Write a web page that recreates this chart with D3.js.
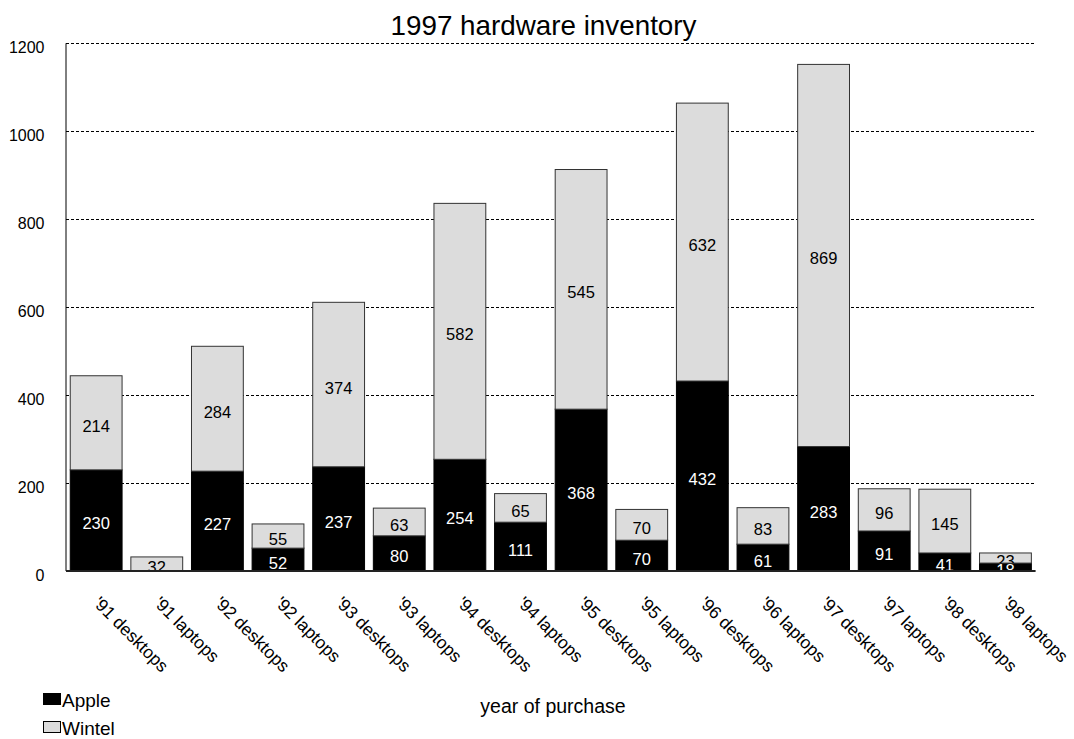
<!DOCTYPE html>
<html>
<head>
<meta charset="utf-8">
<script src="https://cdn.jsdelivr.net/npm/d3@7/dist/d3.min.js"></script>
<style>
  html, body { margin: 0; padding: 0; background: #fff; }
  svg { display: block; font-family: "Liberation Sans", Arial, sans-serif; }
</style>
</head>
<body>
<svg id="chart" width="1074" height="739"></svg>
<script>
const categories = ["'91 desktops", "'91 laptops", "'92 desktops", "'92 laptops", "'93 desktops", "'93 laptops",
  "'94 desktops", "'94 laptops", "'95 desktops", "'95 laptops", "'96 desktops", "'96 laptops",
  "'97 desktops", "'97 laptops", "'98 desktops", "'98 laptops"];
const apple  = [230, 0, 227, 52, 237, 80, 254, 111, 368, 70, 432, 61, 283, 91, 41, 18];
const wintel = [214, 32, 284, 55, 374, 63, 582, 65, 545, 70, 632, 83, 869, 96, 145, 23];
const seriesNames = ["Apple", "Wintel"];
const yTicks = [0, 200, 400, 600, 800, 1000, 1200];

const colors = { Apple: "#000000", Wintel: "#dcdcdc" };
const strokes = { Apple: "#000000", Wintel: "#333333" };
const labelColors = { Apple: "#ffffff", Wintel: "#000000" };

const svg = d3.select("#chart");
const plotLeft = 66, plotRight = 1035.6, plotTop = 43.3, plotBottom = 571;

const x = d3.scaleBand().domain(categories).range([plotLeft, plotRight]).paddingInner(0.145).paddingOuter(0.07);
const y = d3.scaleLinear().domain([0, 1200]).range([plotBottom, plotTop]);

const table = categories.map((c, i) => ({ cat: c, Apple: apple[i], Wintel: wintel[i] }));
const stacked = d3.stack().keys(seriesNames)(table);

// title
svg.append("text").attr("x", 543.5).attr("y", 35).attr("text-anchor", "middle")
  .attr("font-size", 27.8).attr("fill", "#000").text("1997 hardware inventory");

// gridlines
svg.append("g").selectAll("line").data(yTicks.filter(t => t > 0)).join("line")
  .attr("x1", plotLeft).attr("x2", plotRight)
  .attr("y1", d => y(d)).attr("y2", d => y(d))
  .attr("stroke", "#000").attr("stroke-width", 1).attr("stroke-dasharray", "3,2")
  .attr("shape-rendering", "crispEdges");

// y tick labels
svg.append("g").selectAll("text").data(yTicks).join("text")
  .attr("x", 44.5).attr("y", d => y(d) + 10)
  .attr("text-anchor", "end").attr("font-size", 16).attr("fill", "#000")
  .text(d => d);

// bars
const defs = svg.append("defs");
let clipId = 0;
const barsG = svg.append("g");
stacked.forEach(layer => {
  const key = layer.key;
  layer.forEach((d, i) => {
    const v = d[1] - d[0];
    if (v <= 0) return;
    const bx = x(d.data.cat), bw = x.bandwidth();
    const by = y(d[1]), bh = y(d[0]) - y(d[1]);
    barsG.append("rect").attr("x", bx).attr("y", by).attr("width", bw).attr("height", bh)
      .attr("fill", colors[key]).attr("stroke", strokes[key]).attr("stroke-width", 1);
    const id = "clip" + (clipId++);
    defs.append("clipPath").attr("id", id).append("rect")
      .attr("x", bx).attr("y", by).attr("width", bw).attr("height", bh);
    barsG.append("text")
      .attr("clip-path", "url(#" + id + ")")
      .attr("x", bx + bw / 2).attr("y", by + bh / 2 + 9)
      .attr("text-anchor", "middle").attr("font-size", 16.5)
      .attr("fill", labelColors[key]).text(v);
  });
});

// axes lines
svg.append("line").attr("x1", plotLeft).attr("x2", plotLeft).attr("y1", plotTop).attr("y2", plotBottom)
  .attr("stroke", "#000").attr("stroke-width", 1);
svg.append("line").attr("x1", plotLeft).attr("x2", plotRight).attr("y1", plotBottom).attr("y2", plotBottom)
  .attr("stroke", "#222").attr("stroke-width", 2);

// x labels
svg.append("g").selectAll("text").data(categories).join("text")
  .attr("transform", d => `translate(${x(d) + x.bandwidth() / 2 - 4},604) rotate(45)`)
  .attr("text-anchor", "start").attr("font-size", 17.5).attr("fill", "#000")
  .text(d => d);

// x axis title
svg.append("text").attr("x", 553).attr("y", 713).attr("text-anchor", "middle")
  .attr("font-size", 19.5).attr("fill", "#000").text("year of purchase");

// legend
const legend = svg.append("g");
seriesNames.forEach((s, i) => {
  const ly = 693 + i * 28;
  legend.append("rect").attr("x", 43.5).attr("y", ly + 0.5).attr("width", 17).attr("height", 11)
    .attr("fill", colors[s]).attr("stroke", "#000").attr("stroke-width", 1);
  legend.append("text").attr("x", 62).attr("y", ly + 14).attr("font-size", 19)
    .attr("fill", "#000").text(s);
});
</script>
</body>
</html>
